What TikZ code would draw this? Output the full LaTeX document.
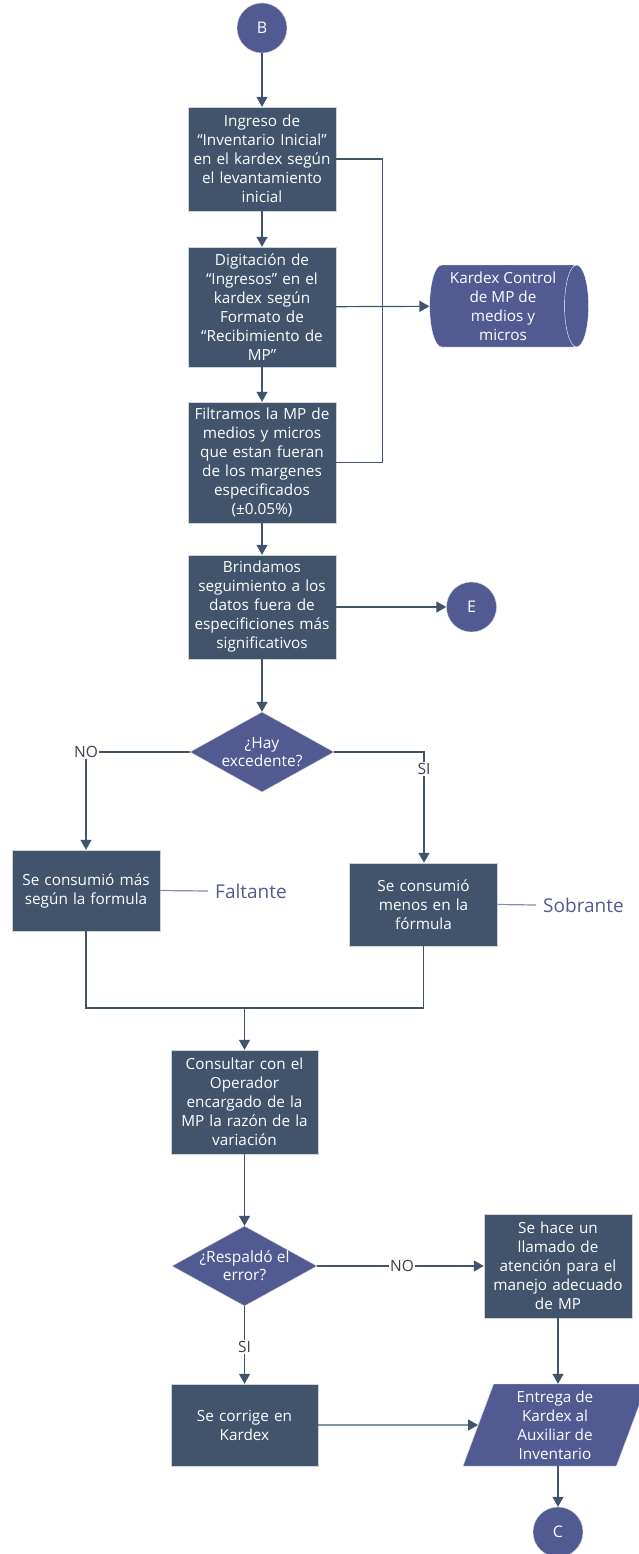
\documentclass[tikz,border=0pt]{standalone}
\usepackage{fontspec}
\setmainfont{Open Sans}
\usetikzlibrary{arrows.meta, shapes.geometric, positioning}
\definecolor{slate}{HTML}{41546B}
\definecolor{iris}{HTML}{525A92}

\begin{document}
\begin{tikzpicture}[x=1pt, y=-1pt]
\tikzstyle{proc}=[rectangle, fill=slate, draw=white!75!slate, text=white, align=center, inner sep=0pt, minimum width=148pt, text width=147pt, font=\fontsize{15.3}{19}\selectfont]
\tikzstyle{dec}=[diamond, aspect=1.8, fill=iris, draw=white!75!iris, text=white, align=center, inner sep=0pt, minimum width=144pt, minimum height=80pt, font=\fontsize{15.5}{18}\selectfont]
\tikzstyle{conn}=[circle, fill=iris, draw=white!75!iris, text=white, minimum size=50pt, font=\fontsize{16}{19}\selectfont]
\tikzstyle{flow}=[-{Triangle[width=11pt,length=10pt]}, line width=1.2pt, draw=slate]
\tikzstyle{link}=[-, line width=1.2pt, draw=slate]
\tikzstyle{lbl}=[text=black!75, inner sep=1pt, font=\fontsize{15.5}{19}\selectfont]
\tikzstyle{note}=[text=iris, inner sep=7pt, anchor=west, font=\fontsize{19}{22}\selectfont]
\useasboundingbox (0,0) rectangle (638,1554);
% upper column
\node[conn] (b) at (262,28) {B};
\node[proc, minimum height=104pt] (ingreso) at (262,159) {Ingreso de\\“Inventario Inicial”\\en el kardex según\\el levantamiento\\inicial};
\node[proc, minimum height=120pt] (digita) at (262,307) {Digitación de\\“Ingresos” en el\\kardex según\\Formato de\\“Recibimiento de\\MP”};
\node[proc, minimum height=121pt] (filtra) at (262,462.5) {Filtramos la MP de\\medios y micros\\que estan fueran\\de los margenes\\especificados\\(±0.05\%)};
\node[proc, minimum height=104pt] (brinda) at (262,607) {Brindamos\\seguimiento a los\\datos fuera de\\especificiones más\\significativos};
\node[conn] (e) at (471.5,607) {E};
\node[cylinder, aspect=0.35, fill=iris, draw=white, text=white, align=center, inner sep=0pt, minimum width=82pt, minimum height=159pt, font=\fontsize{15.3}{19}\selectfont] (kardex) at (503,306) {Kardex Control\\de MP de\\medios y\\micros};
% first decision
\node[dec] (hay) at (262,752) {¿Hay\\excedente?};
\node[lbl] (no1) at (86,752) {NO};
\node[lbl] (si1) at (424,769) {SI};
\node[proc, minimum height=81pt] (mas) at (86,890.5) {Se consumió más\\según la formula};
\node[proc, minimum height=83pt] (menos) at (423.5,904.5) {Se consumió\\menos en la\\fórmula};
\node[note] (falta) at (208,891) {Faltante};
\node[note] (sobra) at (536,905) {Sobrante};
\coordinate (junta) at (244.5,1008);
% lower part
\node[proc, minimum height=104pt, minimum width=147pt] (consulta) at (244.5,1102) {Consultar con el\\Operador\\encargado de la\\MP la razón de la\\variación};
\node[dec, minimum width=145pt] (respaldo) at (244.5,1266) {¿Respaldó el\\error?};
\node[lbl] (no2) at (402,1266) {NO};
\node[lbl] (si2) at (244.5,1347) {SI};
\node[proc, minimum height=104pt] (llamado) at (558,1266) {Se hace un\\llamado de\\atención para el\\manejo adecuado\\de MP};
\node[proc, minimum height=82pt, minimum width=147pt] (corrige) at (244.5,1425) {Se corrige en\\Kardex};
\node[trapezium, trapezium left angle=66, trapezium right angle=114, trapezium stretches body, fill=iris, draw=white!75!iris, text=white, align=center, inner sep=0pt, minimum width=184pt, minimum height=82pt, font=\fontsize{15.3}{19}\selectfont] (entrega) at (555,1425) {Entrega de\\Kardex al\\Auxiliar de\\Inventario};
\node[conn] (c) at (558,1532) {C};
% connectors
\path (b) edge[flow] (ingreso);
\path (ingreso) edge[flow] (digita);
\path (digita) edge[flow] (filtra);
\path (filtra) edge[flow] (brinda);
\path (brinda) edge[flow] (e);
\path (digita) edge[flow] (kardex);
\draw[link] (ingreso.east) -- ++(46,0) |- (filtra.east);
\path (brinda) edge[flow] (hay);
\draw[link] (hay.west) -- (no1.east);
\draw[flow] (no1.south) -- (mas.north);
\draw[link] (hay.east) -| (si1.north);
\draw[flow] (si1.south) -- (si1.south |- menos.north);
\draw[link, draw=iris!70] (mas.east) -- (falta.west);
\draw[link, draw=iris!70] (menos.east) -- (sobra.west);
\draw[link] (mas.south) |- (junta) -| (menos.south);
\draw[flow] (junta) -- (consulta.north);
\path (consulta) edge[flow] (respaldo);
\draw[link] (respaldo.east) -- (no2.west);
\draw[flow] (no2.east) -- (llamado.west);
\draw[link] (respaldo.south) -- (si2.north);
\draw[flow] (si2.south) -- (corrige.north);
\draw[flow] (llamado.south) -- (llamado.south |- entrega.north);
\draw[flow] (corrige.east) -- (entrega.west);
\draw[flow] (entrega.south -| c.north) -- (c.north);
\end{tikzpicture}
\end{document}
